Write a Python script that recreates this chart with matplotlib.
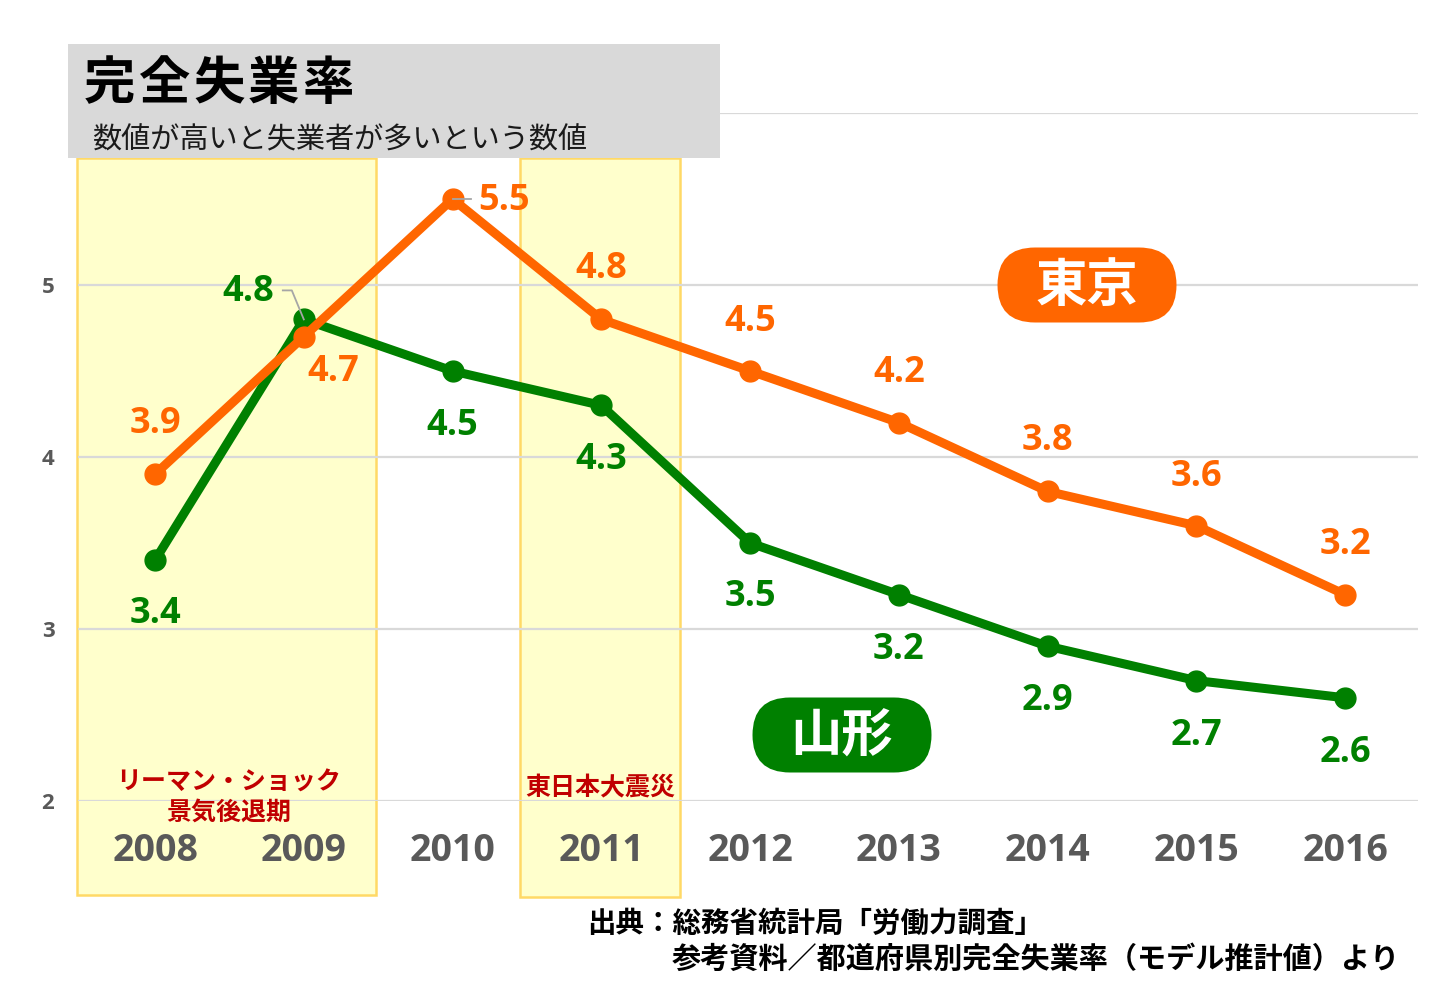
import matplotlib
matplotlib.use("Agg")
import matplotlib.pyplot as plt
from matplotlib.patches import Rectangle, FancyBboxPatch
from matplotlib.transforms import IdentityTransform

# ---------------- data ----------------
years = ["2008", "2009", "2010", "2011", "2012", "2013", "2014", "2015", "2016"]
tokyo = [3.9, 4.7, 5.5, 4.8, 4.5, 4.2, 3.8, 3.6, 3.2]
yamagata = [3.4, 4.8, 4.5, 4.3, 3.5, 3.2, 2.9, 2.7, 2.6]
yticks = [2, 3, 4, 5, 6]
ytick_labels = ["2", "3", "4", "5", ""]
title = "完全失業率"
subtitle = "数値が高いと失業者が多いという数値"
label_tokyo = "東京"
label_yamagata = "山形"
event1 = ["リーマン・ショック", "景気後退期"]
event2 = "東日本大震災"
source1 = "出典：総務省統計局「労働力調査」"
source2 = "参考資料／都道府県別完全失業率（モデル推計値）より"

ORANGE = "#FF6600"
GREEN = "#008000"
GRAY_TXT = "#595959"
RED = "#C00000"
JP = ["Noto Sans CJK JP", "DejaVu Sans"]
NUM = ["Open Sans", "DejaVu Sans"]

W, H = 1442, 994
fig = plt.figure(figsize=(W / 100, H / 100), dpi=100)
fig.patch.set_facecolor("white")

def fx(px):
    return px / W

def fy(py):
    return 1 - py / H

ax = fig.add_axes([fx(78), fy(801), fx(1418) - fx(78), fy(113) - fy(801)])
x = list(range(len(years)))
ax.set_xlim(-0.518, 8.49)
ax.set_ylim(2, 6)
for s in ax.spines.values():
    s.set_visible(False)
ax.set_yticks(yticks)
ax.set_yticklabels(ytick_labels, fontfamily=NUM, fontweight="bold", fontsize=16, color=GRAY_TXT)
ax.set_xticks(x)
ax.set_xticklabels(years, fontfamily=NUM, fontweight="bold", fontsize=27, color=GRAY_TXT)
ax.tick_params(axis="both", length=0)
ax.tick_params(axis="y", pad=17)
ax.tick_params(axis="x", pad=22.5)
ax.grid(axis="y", color="#D9D9D9", linewidth=1.6, zorder=1.5)
ax.set_axisbelow("line")

# event shading (data coords, extending beyond axes)
upx = 148.75  # px per x unit
upy = 172.0   # px per y unit
def dx(px):
    return (px - 155) / upx
def dy(py):
    return 2 + (801 - py) / upy

for (l, r, b) in [(77, 376, 895), (520, 680, 897)]:
    ax.add_patch(Rectangle((dx(l), dy(b)), dx(r) - dx(l), dy(158) - dy(b),
                           facecolor="#FFFFCC", edgecolor="#FFD966", linewidth=1.8,
                           clip_on=False, zorder=0.5))

# lines
ax.plot(x, yamagata, color=GREEN, linewidth=6.5, marker="o", markersize=15,
        solid_capstyle="round", zorder=3)
ax.plot(x, tokyo, color=ORANGE, linewidth=6.5, marker="o", markersize=15,
        solid_capstyle="round", zorder=4)

# data labels (offsets in px, converted to points)
k = 0.72
tokyo_off = [(0, 50), (29, -35), (51, -2), (0, 50), (0, 49), (0, 50), (0, 50), (0, 49), (0, 50)]
yama_off = [(0, -54), (-56, 27), (0, -55), (0, -55), (0, -54), (0, -55), (0, -55), (0, -55), (0, -55)]
for i in x:
    ax.annotate(f"{tokyo[i]:.1f}", (i, tokyo[i]), xytext=(tokyo_off[i][0] * k, tokyo_off[i][1] * k),
                textcoords="offset points", ha="center", va="center", fontsize=26,
                fontweight="bold", fontfamily=NUM, color=ORANGE, zorder=6)
    ax.annotate(f"{yamagata[i]:.1f}", (i, yamagata[i]), xytext=(yama_off[i][0] * k, yama_off[i][1] * k),
                textcoords="offset points", ha="center", va="center", fontsize=26,
                fontweight="bold", fontfamily=NUM, color=GREEN, zorder=6)

# leader lines
fig.canvas.draw()
def leader(xi, yv, pts):
    px0, py0 = ax.transData.transform((xi, yv))
    xs = [px0 + p[0] for p in pts]
    ys = [py0 + p[1] for p in pts]
    line = plt.Line2D(xs, ys, transform=IdentityTransform(), color="#A6A6A6", linewidth=1.3, zorder=2.5)
    fig.add_artist(line)

leader(1, yamagata[1], [(0, 0), (-12, 29), (-21, 29)])
leader(2, tokyo[2], [(0, 0), (18, 0)])

# event labels
ax.text(dx(229), dy(783), event1[0], ha="center", va="center", fontsize=18, fontweight="bold",
        fontfamily=JP, color=RED, zorder=6)
ax.text(dx(229), dy(813), event1[1], ha="center", va="center", fontsize=18, fontweight="bold",
        fontfamily=JP, color=RED, zorder=6)
ax.text(dx(600), dy(788), event2, ha="center", va="center", fontsize=18, fontweight="bold",
        fontfamily=JP, color=RED, zorder=6)

# series badges
for (cx, cy, txt, col) in [(1087, 285, label_tokyo, ORANGE), (842, 735, label_yamagata, GREEN)]:
    w, h = 179, 75
    r = h / 2
    badge = FancyBboxPatch((fx(cx - w / 2 + r), fy(cy + h / 2 - r)),
                           (w - 2 * r) / W, (h - 2 * r) / H,
                           boxstyle=f"round,pad={r / W},rounding_size={r / W}",
                           transform=fig.transFigure, facecolor=col, edgecolor="none",
                           mutation_aspect=W / H, zorder=5)
    fig.add_artist(badge)
    fig.text(fx(cx), fy(cy + 1), txt, ha="center", va="center", fontsize=37, fontweight="bold",
             fontfamily=JP, color="white", zorder=6)

# title box
fig.add_artist(Rectangle((fx(68), fy(158)), fx(720) - fx(68), fy(44) - fy(158),
                         transform=fig.transFigure, facecolor="#D9D9D9", edgecolor="none", zorder=5))
for j, ch in enumerate(title):
    fig.text(fx(84 + 54.5 * j), fy(84), ch, ha="left", va="center", fontsize=37, fontweight="bold",
             fontfamily=JP, color="black", zorder=6)
fig.text(fx(92), fy(140), subtitle, ha="left", va="center", fontsize=21,
         fontfamily=JP, color="#1a1a1a", zorder=6)

# source
fig.text(fx(587), fy(924), source1, ha="left", va="center", fontsize=20.5, fontweight="bold",
         fontfamily=JP, color="black")
fig.text(fx(672), fy(959), source2, ha="left", va="center", fontsize=21, fontweight="bold",
         fontfamily=JP, color="black")

fig.savefig("out.png", dpi=100)
